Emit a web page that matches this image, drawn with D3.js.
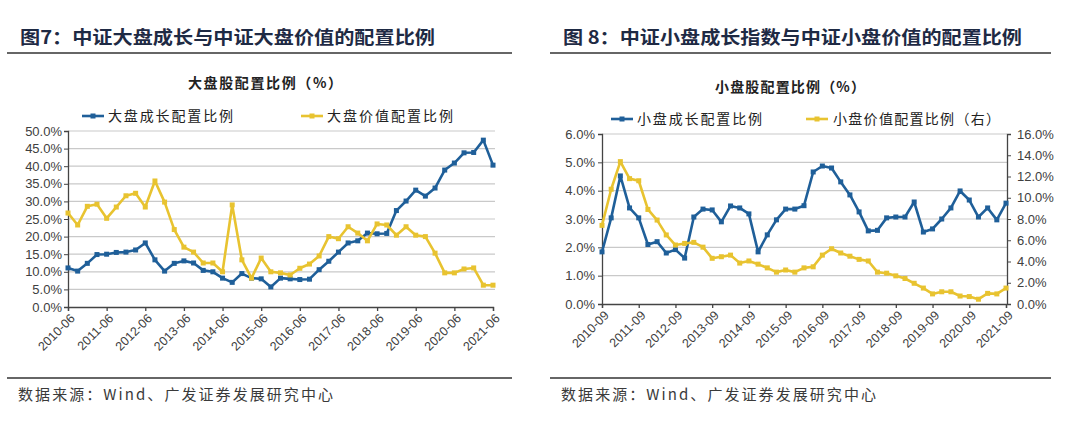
<!DOCTYPE html>
<html><head><meta charset="utf-8">
<script src="https://cdn.jsdelivr.net/npm/d3@7/dist/d3.min.js"></script>
<style>
html,body{margin:0;padding:0;background:#fff;}
svg{display:block;}
</style></head>
<body>
<svg id="c" width="1080" height="444"></svg>
<script>
// ---------- DATA ----------
const leftCategories = ["2010-06","2010-09","2010-12","2011-03","2011-06","2011-09","2011-12","2012-03","2012-06","2012-09","2012-12","2013-03","2013-06","2013-09","2013-12","2014-03","2014-06","2014-09","2014-12","2015-03","2015-06","2015-09","2015-12","2016-03","2016-06","2016-09","2016-12","2017-03","2017-06","2017-09","2017-12","2018-03","2018-06","2018-09","2018-12","2019-03","2019-06","2019-09","2019-12","2020-03","2020-06","2020-09","2020-12","2021-03","2021-06"];
const leftTicks = ["2010-06","2011-06","2012-06","2013-06","2014-06","2015-06","2016-06","2017-06","2018-06","2019-06","2020-06","2021-06"];
const largeGrowth = [11.1,10.2,12.4,14.9,15.0,15.5,15.6,16.2,18.2,13.4,10.2,12.4,13.1,12.5,10.4,10.0,8.2,7.0,9.5,8.2,8.0,5.7,8.2,8.0,7.8,7.9,10.6,13.0,15.6,18.2,18.8,21.0,20.8,20.9,27.4,30.1,33.2,31.5,33.8,38.9,40.9,43.8,43.9,47.4,40.3];
const largeValue = [26.7,23.3,28.6,29.2,25.2,28.4,31.6,32.3,28.4,35.8,29.8,22.0,17.0,15.6,12.5,12.5,10.0,29.0,13.4,8.2,13.9,10.0,9.7,9.1,11.0,12.2,14.5,20.0,19.4,22.8,21.0,18.8,23.6,23.3,20.4,22.8,20.4,20.0,15.3,9.7,9.7,10.8,11.1,6.2,6.2];
const leftYTicks = [0,5,10,15,20,25,30,35,40,45,50];

const rightCategories = ["2010-09","2010-12","2011-03","2011-06","2011-09","2011-12","2012-03","2012-06","2012-09","2012-12","2013-03","2013-06","2013-09","2013-12","2014-03","2014-06","2014-09","2014-12","2015-03","2015-06","2015-09","2015-12","2016-03","2016-06","2016-09","2016-12","2017-03","2017-06","2017-09","2017-12","2018-03","2018-06","2018-09","2018-12","2019-03","2019-06","2019-09","2019-12","2020-03","2020-06","2020-09","2020-12","2021-03","2021-06","2021-09"];
const rightTicks = ["2010-09","2011-09","2012-09","2013-09","2014-09","2015-09","2016-09","2017-09","2018-09","2019-09","2020-09","2021-09"];
const smallGrowth = [1.84,3.04,4.52,3.39,3.04,2.1,2.2,1.8,1.92,1.62,3.07,3.35,3.32,2.9,3.46,3.39,3.18,1.84,2.44,2.97,3.35,3.35,3.47,4.66,4.87,4.8,4.31,3.85,3.25,2.58,2.6,3.04,3.07,3.07,3.6,2.54,2.65,3.0,3.39,3.99,3.67,3.07,3.39,2.97,3.56];
const smallValue = [7.4,10.8,13.4,11.8,11.6,8.9,7.9,6.5,5.55,5.7,5.8,5.35,4.3,4.45,4.6,3.85,4.05,3.75,3.4,3.0,3.2,3.0,3.4,3.5,4.6,5.2,4.8,4.5,4.2,4.05,3.0,2.9,2.65,2.4,1.95,1.5,0.95,1.15,1.15,0.75,0.7,0.45,1.0,0.95,1.5];
const rightYTicksL = [0,1,2,3,4,5,6];
const rightYTicksR = [0,2,4,6,8,10,12,14,16];

const titles = ["图7：中证大盘成长与中证大盘价值的配置比例","图 8：中证小盘成长指数与中证小盘价值的配置比例"];
const subtitles = ["大盘股配置比例（%）","小盘股配置比例（%）"];
const legendLeft = ["大盘成长配置比例","大盘价值配置比例"];
const legendRight = ["小盘成长配置比例","小盘价值配置比例（右）"];
const sourceText = "数据来源：Wind、广发证券发展研究中心";

// ---------- STYLE ----------
const BLUE = "#1f5f99", YELLOW = "#e8c330";
const CJK = "'Noto Sans CJK SC','Noto Sans',sans-serif";
const NUM = "'Liberation Sans',Arial,sans-serif";
const svg = d3.select("#c");

function header(x0, x1, tx, title, tlen) {
  svg.append("text").attr("x", tx).attr("y", 44).attr("font-family", CJK)
    .attr("font-weight", 700).attr("font-size", 18).attr("fill", "#1e2a44")
    .attr("textLength", tlen).attr("lengthAdjust", "spacingAndGlyphs").text(title);
  svg.append("line").attr("x1", x0).attr("x2", x1).attr("y1", 53).attr("y2", 53)
    .attr("stroke", "#333").attr("stroke-width", 1.3);
  svg.append("line").attr("x1", x0).attr("x2", x1).attr("y1", 378).attr("y2", 378)
    .attr("stroke", "#333").attr("stroke-width", 1.3);
  svg.append("text").attr("x", tx - 2).attr("y", 400).attr("font-family", CJK)
    .attr("font-size", 15).attr("fill", "#3a3a3a")
    .attr("textLength", 315).attr("lengthAdjust", "spacing").text(sourceText);
}
header(7, 512, 20, titles[0], 415);
header(550, 1051, 563, titles[1], 459);

function subtitle(cx, cy, txt, len) {
  svg.append("text").attr("x", cx - len / 2).attr("y", cy).attr("dy", "0.35em")
    .attr("font-family", CJK).attr("font-weight", 700).attr("font-size", 14).attr("fill", "#222")
    .attr("textLength", len).attr("lengthAdjust", "spacing").text(txt);
}
subtitle(265, 83, subtitles[0], 154);
subtitle(790, 87, subtitles[1], 150);

function legendItem(lx, ly, color, txt, tx, tlen) {
  svg.append("line").attr("x1", lx).attr("x2", lx + 22).attr("y1", ly).attr("y2", ly)
    .attr("stroke", color).attr("stroke-width", 2.6);
  svg.append("rect").attr("x", lx + 11 - 2.5).attr("y", ly - 2.5).attr("width", 5).attr("height", 5).attr("fill", color);
  svg.append("text").attr("x", tx).attr("y", ly).attr("dy", "0.35em").attr("font-family", CJK)
    .attr("font-size", 14).attr("fill", "#222").attr("textLength", tlen).attr("lengthAdjust", "spacing").text(txt);
}
legendItem(82, 116, BLUE, legendLeft[0], 108, 125);
legendItem(301, 116, YELLOW, legendLeft[1], 327, 126);
legendItem(611, 119, BLUE, legendRight[0], 637, 125);
legendItem(806, 119, YELLOW, legendRight[1], 833, 167);

function drawSeries(g, x, y, cats, vals, color) {
  const line = d3.line().x((d, i) => x(cats[i])).y(d => y(d));
  g.append("path").datum(vals).attr("d", line).attr("fill", "none")
    .attr("stroke", color).attr("stroke-width", 2.6).attr("stroke-linejoin", "round");
  g.selectAll(null).data(vals).enter().append("rect")
    .attr("x", (d, i) => x(cats[i]) - 2.5).attr("y", d => y(d) - 2.5)
    .attr("width", 5).attr("height", 5).attr("fill", color);
}

function xAxis(g, x, ticks, yb) {
  const ax = g.append("g").attr("transform", `translate(0,${yb})`)
    .call(d3.axisBottom(x).tickValues(ticks).tickSize(4).tickFormat(""));
  ax.select(".domain").attr("stroke", "#444").attr("stroke-width", 1.3);
  ax.selectAll(".tick line").attr("stroke", "#444").attr("stroke-width", 1.3);
  ax.selectAll(".tick").append("text")
    .attr("transform", "translate(4,9) rotate(-45)")
    .attr("text-anchor", "end").attr("dy", "0.35em")
    .attr("font-family", NUM).attr("font-size", 12.5).attr("fill", "#404040")
    .text(d => d);
}

function grid(g, y, ticks, xa, xb) {
  g.selectAll(null).data(ticks.filter(t => t !== 0)).enter().append("line")
    .attr("x1", xa).attr("x2", xb).attr("y1", d => y(d)).attr("y2", d => y(d))
    .attr("stroke", "#c9c9c9").attr("stroke-width", 1.2);
}

// ---------- LEFT CHART ----------
{
  const g = svg.append("g");
  const x = d3.scalePoint().domain(leftCategories).range([68, 493]);
  const y = d3.scaleLinear().domain([0, 50]).range([307, 131]);
  grid(g, y, leftYTicks, 68, 495);
  const ay = g.append("g").attr("transform", "translate(68,0)")
    .call(d3.axisLeft(y).tickValues(leftYTicks).tickSize(4).tickFormat(d => d.toFixed(1) + "%"));
  ay.select(".domain").attr("stroke", "#444").attr("stroke-width", 1.3);
  ay.selectAll(".tick line").attr("stroke", "#444");
  ay.selectAll(".tick text").attr("font-family", NUM).attr("font-size", 13).attr("fill", "#404040").attr("x", -6);
  xAxis(g, x, leftTicks, 307);
  drawSeries(g, x, y, leftCategories, largeGrowth, BLUE);
  drawSeries(g, x, y, leftCategories, largeValue, YELLOW);
}

// ---------- RIGHT CHART ----------
{
  const g = svg.append("g");
  const x = d3.scalePoint().domain(rightCategories).range([602, 1006]);
  const yL = d3.scaleLinear().domain([0, 6]).range([304, 134]);
  const yR = d3.scaleLinear().domain([0, 16]).range([304, 134]);
  grid(g, yL, rightYTicksL, 602, 1007);
  const ayl = g.append("g").attr("transform", "translate(602,0)")
    .call(d3.axisLeft(yL).tickValues(rightYTicksL).tickSize(4).tickFormat(d => d.toFixed(1) + "%"));
  ayl.select(".domain").attr("stroke", "#444").attr("stroke-width", 1.3);
  ayl.selectAll(".tick line").attr("stroke", "#444");
  ayl.selectAll(".tick text").attr("font-family", NUM).attr("font-size", 13).attr("fill", "#404040").attr("x", -7);
  const ayr = g.append("g").attr("transform", "translate(1007,0)")
    .call(d3.axisRight(yR).tickValues(rightYTicksR).tickSize(4).tickFormat(d => d.toFixed(1) + "%"));
  ayr.select(".domain").attr("stroke", "#444").attr("stroke-width", 1.3);
  ayr.selectAll(".tick line").attr("stroke", "#444");
  ayr.selectAll(".tick text").attr("font-family", NUM).attr("font-size", 13).attr("fill", "#404040").attr("x", 10);
  xAxis(g, x, rightTicks, 304);
  drawSeries(g, x, yL, rightCategories, smallGrowth, BLUE);
  drawSeries(g, x, yR, rightCategories, smallValue, YELLOW);
}
</script>
</body></html>
